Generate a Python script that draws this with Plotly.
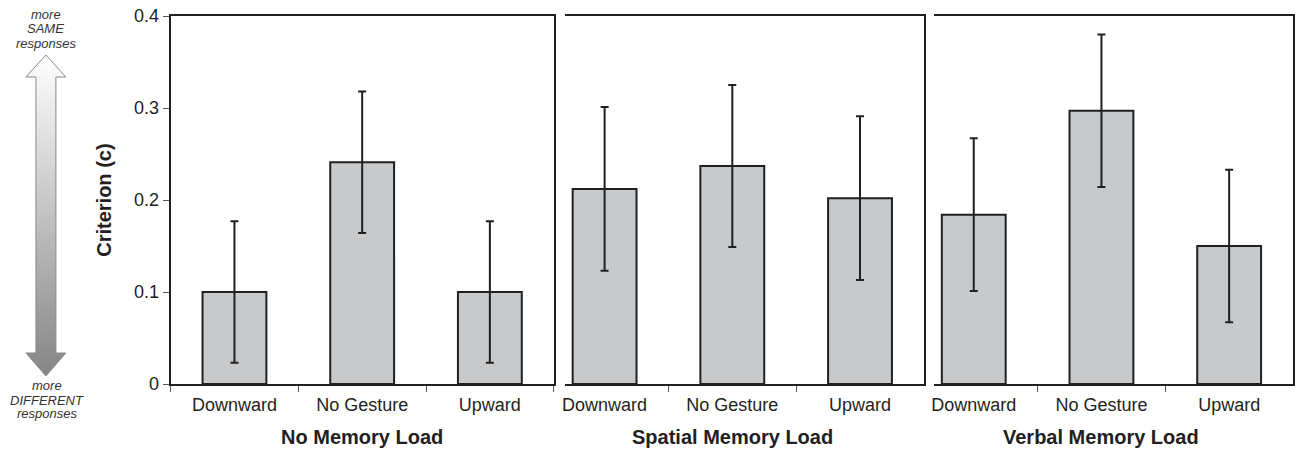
import base64
import plotly.graph_objects as go

# ---------------- data ----------------
categories = ["Downward", "No Gesture", "Upward"]
panel_titles = ["No Memory Load", "Spatial Memory Load", "Verbal Memory Load"]

no_load = [0.100, 0.241, 0.100]
no_load_err = [0.077, 0.077, 0.077]

spatial = [0.212, 0.237, 0.202]
spatial_err = [0.089, 0.088, 0.089]

verbal = [0.184, 0.297, 0.150]
verbal_err = [0.083, 0.083, 0.083]

y_tickvals = [0, 0.1, 0.2, 0.3, 0.4]
y_ticktext = ["0", "0.1", "0.2", "0.3", "0.4"]

# ---------------- style ----------------
W, H = 1295, 451
TOP, BOT = 16, 384          # pixel rows of 0.4 and 0
INK = "#231F20"
BAR = "#C8C9CB"
FONT = "Liberation Sans, Arial, sans-serif"


def px_x(p):
    return p / W


def px_y(p):
    return (BOT - p) / (BOT - TOP)


fig = go.Figure()

series = [(no_load, no_load_err), (spatial, spatial_err), (verbal, verbal_err)]
for i, (vals, errs) in enumerate(series):
    suffix = "" if i == 0 else str(i + 1)
    fig.add_trace(go.Bar(
        x=categories, y=vals,
        width=0.5,
        marker=dict(color=BAR, line=dict(color=INK, width=2)),
        error_y=dict(type="data", array=errs, visible=True,
                     color=INK, thickness=2, width=4),
        xaxis="x" + suffix, yaxis="y" + suffix,
        showlegend=False,
    ))

domains = [[px_x(168), px_x(552)], [px_x(563), px_x(923)], [px_x(933), px_x(1293)]]
ranges = [[-0.5, 2.5], [-0.3125, 2.5], [-0.3125, 2.5]]

layout = dict(
    width=W, height=H,
    margin=dict(l=0, r=0, t=TOP, b=H - BOT),
    plot_bgcolor="white", paper_bgcolor="white",
    font=dict(family=FONT, color=INK),
    bargap=0.5,
)

for i in range(3):
    suffix = "" if i == 0 else str(i + 1)
    layout["xaxis" + suffix] = dict(
        domain=domains[i], range=ranges[i], type="category",
        anchor="y" + suffix,
        tickson="boundaries", ticks="outside", ticklen=6,
        tickwidth=1, tickcolor="#555",
        ticklabelstandoff=3,
        showline=True, mirror=True, linecolor=INK, linewidth=2,
        showgrid=False, zeroline=False,
        tickfont=dict(size=18, family=FONT, color=INK),
        fixedrange=True,
    )
    if i == 0:
        layout["yaxis"] = dict(
            domain=[0, 1], range=[0, 0.4], anchor="x",
            tickmode="array", tickvals=y_tickvals, ticktext=y_ticktext,
            ticks="outside", ticklen=6, tickwidth=1, tickcolor="#555",
            showline=True, mirror=True, linecolor=INK, linewidth=2,
            showgrid=False, zeroline=False,
            tickfont=dict(size=18, family=FONT, color=INK),
            fixedrange=True,
        )
    else:
        layout["yaxis" + suffix] = dict(
            domain=[0, 1], range=[0, 0.4], anchor="x" + suffix,
            side="right", showticklabels=False, ticks="",
            showline=True, linecolor=INK, linewidth=2,
            showgrid=False, zeroline=False, fixedrange=True,
        )

fig.update_layout(**layout)

# panel titles
for i, t in enumerate(panel_titles):
    suffix = "" if i == 0 else str(i + 1)
    fig.add_annotation(
        text="<b>" + t + "</b>", xref="x" + suffix, yref="paper",
        x=categories[1], y=px_y(437), showarrow=False,
        xanchor="center", yanchor="middle",
        font=dict(size=20, family=FONT, color=INK),
    )

# y-axis title
fig.add_annotation(
    text="<b>Criterion (c)</b>", xref="paper", yref="paper",
    x=px_x(101), y=px_y(200), textangle=-90, showarrow=False,
    xanchor="center", yanchor="middle",
    font=dict(size=20, family=FONT, color=INK),
)

# arrow caption text
for txt, py in [("more", 15), ("SAME", 29), ("responses", 43)]:
    fig.add_annotation(text="<i>" + txt + "</i>", xref="paper", yref="paper",
                       x=px_x(43), y=px_y(py), showarrow=False,
                       xanchor="center", yanchor="middle",
                       font=dict(size=13, family=FONT, color="#333"))
for txt, py in [("more", 386), ("DIFFERENT", 400), ("responses", 413)]:
    fig.add_annotation(text="<i>" + txt + "</i>", xref="paper", yref="paper",
                       x=px_x(44), y=px_y(py), showarrow=False,
                       xanchor="center", yanchor="middle",
                       font=dict(size=13, family=FONT, color="#333"))

# gradient double arrow (decoration)
svg = (
    '<svg xmlns="http://www.w3.org/2000/svg" width="44" height="324" viewBox="0 0 44 324">'
    '<defs><linearGradient id="g" x1="0" y1="0" x2="0" y2="1">'
    '<stop offset="0" stop-color="#ffffff"/><stop offset="1" stop-color="#858587"/>'
    '</linearGradient></defs>'
    '<polygon points="22,1 42,23 32,23 32,299 42,299 22,322 2,299 12,299 12,23 2,23" '
    'fill="url(#g)" stroke="#8a8a8a" stroke-width="1"/></svg>'
)
src = "data:image/svg+xml;base64," + base64.b64encode(svg.encode()).decode()
fig.add_layout_image(dict(
    source=src, xref="paper", yref="paper",
    x=px_x(21), y=px_y(54), sizex=44 / W, sizey=324 / (BOT - TOP),
    xanchor="left", yanchor="top", sizing="stretch", layer="above",
))

fig.write_html(
    "out.html",
    config={"displayModeBar": False},
    post_script="document.body.style.margin='0px';document.body.style.overflow='hidden';",
)
